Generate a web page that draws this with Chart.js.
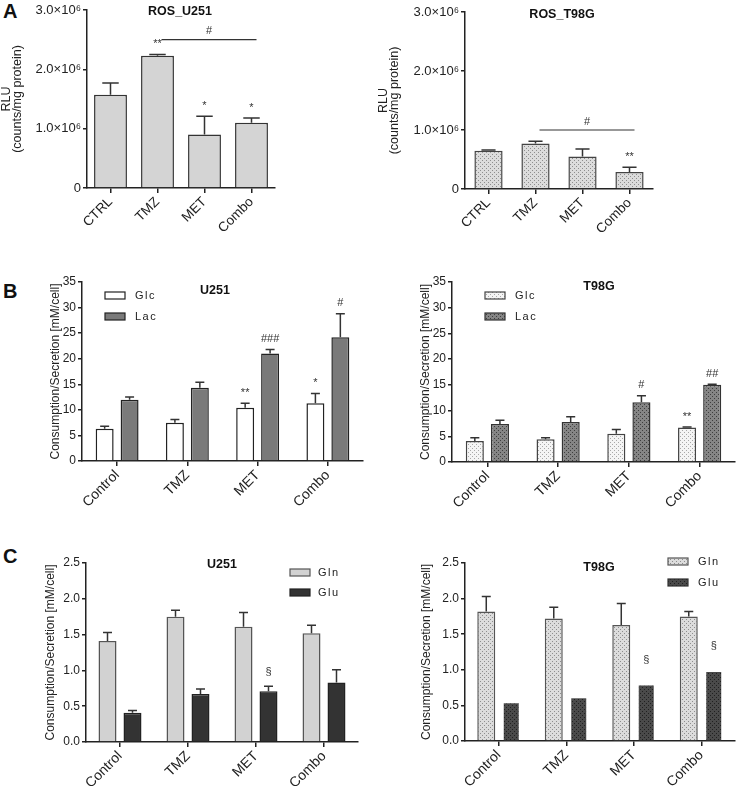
<!DOCTYPE html>
<html><head><meta charset="utf-8">
<script src="https://cdn.jsdelivr.net/npm/chart.js@4/dist/chart.umd.min.js"></script>
<style>
body{margin:0;background:#fff;width:736px;height:786px;position:relative;overflow:hidden;font-family:"Liberation Sans",Arial,sans-serif}
canvas{position:absolute}
.lbl{position:absolute;font-weight:bold;font-size:20px;color:#111;font-family:"Liberation Sans",Arial,sans-serif}
</style></head><body>
<div class="lbl" style="left:3px;top:0px">A</div>
<div class="lbl" style="left:3px;top:280px">B</div>
<div class="lbl" style="left:3px;top:545px">C</div>
<canvas id="a1" width="290" height="262" style="left:0;top:0"></canvas>
<canvas id="a2" width="300" height="262" style="left:370px;top:0"></canvas>
<canvas id="b1" width="370" height="250" style="left:0;top:270px"></canvas>
<canvas id="b2" width="366" height="250" style="left:370px;top:270px"></canvas>
<canvas id="c1" width="370" height="251" style="left:0;top:535px"></canvas>
<canvas id="c2" width="366" height="251" style="left:370px;top:535px"></canvas>
<script>
// ---------- DATA ----------
const rosCategories = ['CTRL', 'TMZ', 'MET', 'Combo'];
const rosTickLabels = ['0', '1.0×10⁶', '2.0×10⁶', '3.0×10⁶'];
const rosU251 = [1.57e6, 2.23e6, 0.90e6, 1.10e6];
const rosU251Err = [0.20e6, 0.02e6, 0.31e6, 0.08e6];
const rosU251Sig = ['', '**', '*', '*'];
const rosU251Bracket = [1, 3, 2.5e6, '#'];
const rosT98G = [0.65e6, 0.77e6, 0.55e6, 0.29e6];
const rosT98GErr = [0.01e6, 0.04e6, 0.13e6, 0.08e6];
const rosT98GSig = ['', '', '', '**'];
const rosT98GBracket = [1, 3, 1.0e6, '#'];

const metCategories = ['Control', 'TMZ', 'MET', 'Combo'];
const glcU251 = [6.3, 7.5, 10.4, 11.3];
const glcU251Err = [0.5, 0.6, 0.9, 1.9];
const glcU251Sig = ['', '', '**', '*'];
const lacU251 = [12.0, 14.3, 21.0, 24.2];
const lacU251Err = [0.5, 1.1, 0.8, 4.6];
const lacU251Sig = ['', '', '###', '#'];
const glcT98G = [4.1, 4.4, 5.5, 6.7];
const glcT98GErr = [0.6, 0.3, 0.8, 0.1];
const glcT98GSig = ['', '', '', '**'];
const lacT98G = [7.4, 7.8, 11.6, 15.0];
const lacT98GErr = [0.7, 1.0, 1.3, 0.1];
const lacT98GSig = ['', '', '#', '##'];

const glnU251 = [1.41, 1.75, 1.61, 1.52];
const glnU251Err = [0.12, 0.09, 0.20, 0.11];
const gluU251 = [0.41, 0.67, 0.71, 0.83];
const gluU251Err = [0.03, 0.07, 0.07, 0.18];
const gluU251Sig = ['', '', '§', ''];
const glnT98G = [1.82, 1.72, 1.63, 1.75];
const glnT98GErr = [0.21, 0.16, 0.30, 0.07];
const gluT98G = [0.53, 0.60, 0.78, 0.97];
const gluT98GErr = [0, 0, 0, 0];
const gluT98GSig = ['', '', '§', '§'];

// ---------- STYLE HELPERS ----------
const AX = '#222';
const FONT = '"Liberation Sans", Arial, sans-serif';
Chart.defaults.font.family = FONT;

function dots(bg, dot) {
  const c = document.createElement('canvas');
  c.width = 4; c.height = 4;
  const g = c.getContext('2d');
  g.fillStyle = bg; g.fillRect(0, 0, 4, 4);
  g.fillStyle = dot; g.fillRect(0, 0, 1, 1); g.fillRect(2, 2, 1, 1);
  return g.createPattern(c, 'repeat');
}

function yAxis(o) {
  return {
    min: o.min, max: o.max,
    ticks: { stepSize: o.step, color: AX, font: { size: o.fsize || 12 }, padding: 2,
      callback: o.labels ? (v, i) => o.labels[i] : (v) => o.dec ? v.toFixed(o.dec) : String(v) },
    grid: { display: true, drawOnChartArea: false, drawTicks: true, tickLength: 4, color: AX, lineWidth: 1.5 },
    border: { display: true, color: AX, width: 1.5 },
    title: { display: true, text: o.title, color: AX, font: { size: o.tsize || 12, lineHeight: 0.9 }, padding: { top: 0, bottom: 0 } },
    afterFit(s) { s.width = o.width; }
  };
}
function xAxis(h, fs) {
  return {
    ticks: { color: AX, font: { size: fs }, minRotation: 45, maxRotation: 45, padding: 1, autoSkip: false },
    grid: { display: true, drawOnChartArea: false, drawTicks: true, tickLength: 5, color: AX, lineWidth: 1.5, offset: false },
    border: { display: true, color: AX, width: 1.5 },
    afterFit(s) { s.height = h; }
  };
}

const errPlugin = {
  id: 'errbars',
  afterDatasetsDraw(chart) {
    const ctx = chart.ctx, y = chart.scales.y;
    chart.data.datasets.forEach((ds, di) => {
      const meta = chart.getDatasetMeta(di);
      meta.data.forEach((bar, i) => {
        const v = ds.data[i], e = ds.errors ? ds.errors[i] : 0;
        const yv = y.getPixelForValue(v), yt = y.getPixelForValue(v + e);
        ctx.save();
        if (e > 0) {
          const cap = bar.width * 0.5;
          ctx.strokeStyle = ds.errColor || '#333'; ctx.lineWidth = 1.5;
          ctx.beginPath();
          ctx.moveTo(bar.x, yv); ctx.lineTo(bar.x, yt);
          ctx.moveTo(bar.x - cap / 2, yt); ctx.lineTo(bar.x + cap / 2, yt);
          ctx.stroke();
        }
        if (ds.sig && ds.sig[i]) {
          ctx.fillStyle = '#333'; ctx.font = '11px ' + FONT;
          ctx.textAlign = 'center'; ctx.textBaseline = 'bottom';
          ctx.fillText(ds.sig[i], bar.x, yt - (ds.sigGap || 5));
        }
        ctx.restore();
      });
    });
  }
};

const decoPlugin = {
  id: 'deco',
  afterDraw(chart, args, opts) {
    const ctx = chart.ctx;
    ctx.save();
    if (opts.title) {
      ctx.fillStyle = '#111'; ctx.font = 'bold 12.5px ' + FONT;
      ctx.textAlign = 'center'; ctx.textBaseline = 'middle';
      ctx.fillText(opts.title[0], opts.title[1], opts.title[2]);
    }
    if (opts.bracket) {
      const [from, to, val, txt] = opts.bracket;
      const x = chart.scales.x, y = chart.scales.y;
      const x1 = x.getPixelForValue(from) + 4, x2 = x.getPixelForValue(to) + 5, yy = y.getPixelForValue(val);
      ctx.strokeStyle = '#333'; ctx.lineWidth = 1.2;
      ctx.beginPath(); ctx.moveTo(x1, yy); ctx.lineTo(x2, yy); ctx.stroke();
      ctx.fillStyle = '#333'; ctx.font = '11px ' + FONT;
      ctx.textAlign = 'center'; ctx.textBaseline = 'bottom';
      ctx.fillText(txt, (x1 + x2) / 2, yy - 3);
    }
    if (opts.legend) {
      const [lx, ly, dy, tx] = opts.legend;
      chart.data.datasets.forEach((ds, i) => {
        const yy = ly + i * dy;
        ctx.fillStyle = ds.backgroundColor;
        ctx.fillRect(lx, yy, 20, 7);
        ctx.strokeStyle = ds.borderColor; ctx.lineWidth = 1.2;
        ctx.strokeRect(lx, yy, 20, 7);
        ctx.fillStyle = '#222'; ctx.font = '11px ' + FONT;
        ctx.letterSpacing = '1.5px';
        ctx.textAlign = 'left'; ctx.textBaseline = 'middle';
        ctx.fillText(ds.label, tx, yy + 3.5);
        ctx.letterSpacing = '0px';
      });
    }
    ctx.restore();
  }
};

function makeChart(id, cfg) {
  return new Chart(document.getElementById(id), {
    type: 'bar',
    data: { labels: cfg.labels, datasets: cfg.datasets },
    options: {
      responsive: false, animation: false,
      layout: { padding: cfg.padding },
      scales: { x: xAxis(cfg.xh, cfg.xfs), y: yAxis(cfg.y) },
      plugins: { legend: { display: false }, tooltip: { enabled: false }, deco: cfg.deco }
    },
    plugins: [errPlugin, decoPlugin]
  });
}

const lightDots = dots('#dcdcdc', '#8e8e8e');
const whiteDots = dots('#f4f4f4', '#a8a8a8');
const midDots = dots('#858585', '#3e3e3e');
const darkDots = dots('#4a4a4a', '#202020');

// ---------- PANEL A ----------
makeChart('a1', {
  labels: rosCategories, xfs: 13.5,
  padding: { left: 1, top: 10, right: 15, bottom: 0 }, xh: 74,
  y: { min: 0, max: 3e6, step: 1e6, labels: rosTickLabels, title: ['RLU', '(counts/mg protein)'], width: 86, tsize: 12.5, fsize: 13 },
  datasets: [{ label: 'ROS_U251', data: rosU251, errors: rosU251Err, sig: rosU251Sig,
    backgroundColor: '#d4d4d4', borderColor: '#333', borderWidth: 1.5, categoryPercentage: 1, barPercentage: 0.7 }],
  deco: { title: ['ROS_U251', 180, 12], bracket: rosU251Bracket }
});
makeChart('a2', {
  labels: rosCategories, xfs: 13.5,
  padding: { left: 8, top: 12, right: 17, bottom: 0 }, xh: 73,
  y: { min: 0, max: 3e6, step: 1e6, labels: rosTickLabels, title: ['RLU', '(counts/mg protein)'], width: 87, tsize: 12.5, fsize: 13 },
  datasets: [{ label: 'ROS_T98G', data: rosT98G, errors: rosT98GErr, sig: rosT98GSig,
    backgroundColor: lightDots, borderColor: '#444', borderWidth: 1.5, categoryPercentage: 1, barPercentage: 0.6 }],
  deco: { title: ['ROS_T98G', 192, 15], bracket: rosT98GBracket }
});

// ---------- PANEL B ----------
makeChart('b1', {
  labels: metCategories, xfs: 14,
  padding: { left: 50, top: 12, right: 7, bottom: 0 }, xh: 59,
  y: { min: 0, max: 35, step: 5, title: 'Consumption/Secretion [mM/cell]', width: 32 },
  datasets: [
    { label: 'Glc', data: glcU251, errors: glcU251Err, sig: glcU251Sig, backgroundColor: '#ffffff', borderColor: '#222', borderWidth: 1.5, categoryPercentage: 0.71, barPercentage: 0.72 },
    { label: 'Lac', data: lacU251, errors: lacU251Err, sig: lacU251Sig, backgroundColor: '#7a7a7a', borderColor: '#222', borderWidth: 1.5, categoryPercentage: 0.71, barPercentage: 0.72 }
  ],
  deco: { title: ['U251', 215, 21], legend: [105, 22, 21, 135] }
});
makeChart('b2', {
  labels: metCategories, xfs: 14,
  padding: { left: 50, top: 12, right: 1, bottom: 0 }, xh: 58,
  y: { min: 0, max: 35, step: 5, title: 'Consumption/Secretion [mM/cell]', width: 32 },
  datasets: [
    { label: 'Glc', data: glcT98G, errors: glcT98GErr, sig: glcT98GSig, backgroundColor: whiteDots, borderColor: '#444', borderWidth: 1.5, categoryPercentage: 0.71, barPercentage: 0.72 },
    { label: 'Lac', data: lacT98G, errors: lacT98GErr, sig: lacT98GSig, backgroundColor: midDots, borderColor: '#333', borderWidth: 1.5, categoryPercentage: 0.71, barPercentage: 0.72 }
  ],
  deco: { title: ['T98G', 229, 17], legend: [115, 22, 21, 145] }
});

// ---------- PANEL C ----------
makeChart('c1', {
  labels: metCategories, xfs: 14,
  padding: { left: 45, top: 28, right: 12, bottom: 0 }, xh: 44,
  y: { min: 0, max: 2.5, step: 0.5, dec: 1, title: 'Consumption/Secretion [mM/cell]', width: 41 },
  datasets: [
    { label: 'Gln', data: glnU251, errors: glnU251Err, backgroundColor: '#d2d2d2', borderColor: '#555', borderWidth: 1.5, categoryPercentage: 0.735, barPercentage: 0.72 },
    { label: 'Glu', data: gluU251, errors: gluU251Err, sig: gluU251Sig, backgroundColor: '#333333', borderColor: '#222', borderWidth: 1.5, categoryPercentage: 0.735, barPercentage: 0.72, sigGap: 9 }
  ],
  deco: { title: ['U251', 222, 30], legend: [290, 34, 20, 318] }
});
makeChart('c2', {
  labels: metCategories, xfs: 14,
  padding: { left: 51, top: 28, right: 1, bottom: 0 }, xh: 45,
  y: { min: 0, max: 2.5, step: 0.5, dec: 1, title: 'Consumption/Secretion [mM/cell]', width: 44 },
  datasets: [
    { label: 'Gln', data: glnT98G, errors: glnT98GErr, backgroundColor: lightDots, borderColor: '#555', borderWidth: 1.5, categoryPercentage: 0.74, barPercentage: 0.72 },
    { label: 'Glu', data: gluT98G, errors: gluT98GErr, sig: gluT98GSig, backgroundColor: darkDots, borderColor: '#333', borderWidth: 0, categoryPercentage: 0.74, barPercentage: 0.6, sigGap: 20 }
  ],
  deco: { title: ['T98G', 229, 33], legend: [298, 23, 21, 328] }
});
</script>
</body></html>
